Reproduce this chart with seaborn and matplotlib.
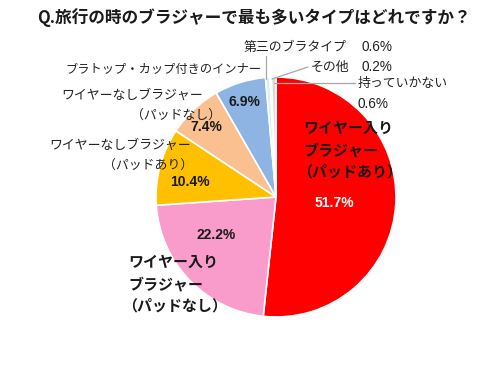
import matplotlib
matplotlib.use("Agg")
import matplotlib.pyplot as plt
import seaborn as sns

# data (clockwise from 12 o'clock)
categories = ["ワイヤー入りブラジャー（パッドあり）", "ワイヤー入りブラジャー（パッドなし）",
              "ワイヤーなしブラジャー（パッドあり）", "ワイヤーなしブラジャー（パッドなし）",
              "ブラトップ・カップ付きのインナー", "第三のブラタイプ", "その他", "持っていかない"]
values = [51.7, 22.2, 10.4, 7.4, 6.9, 0.6, 0.2, 0.6]
colors = ["#FF0000", "#F99BCB", "#FFC000", "#FAC090", "#8DB4E2", "#DAEEF3", "#FFFFFF", "#D9D9D9"]
title = "Q.旅行の時のブラジャーで最も多いタイプはどれですか？"

W, H = 500, 367
sns.set_theme(style="white")
plt.rcParams["font.family"] = ["Noto Sans CJK JP", "DejaVu Sans"]
num_font = ["Liberation Sans", "DejaVu Sans"]

fig = plt.figure(figsize=(W / 100, H / 100), dpi=100)
ax = fig.add_axes([0, 0, 1, 1])


def P(x, y):
    # pixel coords (top-left origin) -> axes data coords
    return x, H - y


ax.pie(values, colors=colors, startangle=90, counterclock=False,
       center=P(276, 197), radius=120, frame=True,
       wedgeprops=dict(edgecolor="white", linewidth=1.2))
ax.set_xlim(0, W)
ax.set_ylim(0, H)
ax.set_aspect("equal")
ax.axis("off")

ax.text(*P(37, 18), title, fontsize=12, fontweight="bold", va="center", ha="left", color="#1a1a1a")

lab = dict(fontsize=9.3, color="#222222", va="center")
pct = dict(fontsize=9.8, color="#222222", va="center", family=num_font)
bold_pct = dict(fontsize=10, fontweight="bold", color="#1a1a1a", va="center", ha="center", family=num_font)
big = dict(fontsize=10.8, fontweight="bold", color="#1a1a1a", va="center", ha="left")

# small slices with leader lines
ax.text(*P(244, 47), categories[5], ha="left", **lab)
ax.text(*P(362, 47), f"{values[5]}%", ha="left", **pct)
ax.text(*P(311, 67), categories[6], ha="left", **lab)
ax.text(*P(362, 67), f"{values[6]}%", ha="left", **pct)
ax.text(*P(358, 84), categories[7], ha="left", **lab)
ax.text(*P(358, 104), f"{values[7]}%", ha="left", **pct)
line = dict(color="#A6A6A6", linewidth=0.9)
ax.plot(*zip(P(266, 56), P(266, 79)), **line)
ax.plot(*zip(P(308, 67), P(272, 79)), **line)
ax.plot(*zip(P(355, 83), P(274, 83)), **line)

# outside labels on the left
ax.text(*P(262, 70), categories[4], ha="right", **dict(lab, fontsize=8.8))
ax.text(*P(203, 95), "ワイヤーなしブラジャー", ha="right", **lab)
ax.text(*P(176, 115), "（パッドなし）", ha="center", **lab)
ax.text(*P(191, 145), "ワイヤーなしブラジャー", ha="right", **lab)
ax.text(*P(148, 165), "（パッドあり）", ha="center", **lab)

# percentages inside the slices
ax.text(*P(244, 102), f"{values[4]}%", **bold_pct)
ax.text(*P(206, 127), f"{values[3]}%", **bold_pct)
ax.text(*P(190, 182), f"{values[2]}%", **bold_pct)
ax.text(*P(216, 235), f"{values[1]}%", **bold_pct)
ax.text(*P(334, 203), f"{values[0]}%", **dict(bold_pct, color="white"))

# big labels
ax.text(*P(128, 262), "ワイヤー入り", **big)
ax.text(*P(128, 284), "ブラジャー", **big)
ax.text(*P(122, 306), "（パッドなし）", **big)
ax.text(*P(303, 128), "ワイヤー入り", **big)
ax.text(*P(303, 150), "ブラジャー", **big)
ax.text(*P(297, 172), "（パッドあり）", **big)

fig.savefig("out.png", dpi=100)
